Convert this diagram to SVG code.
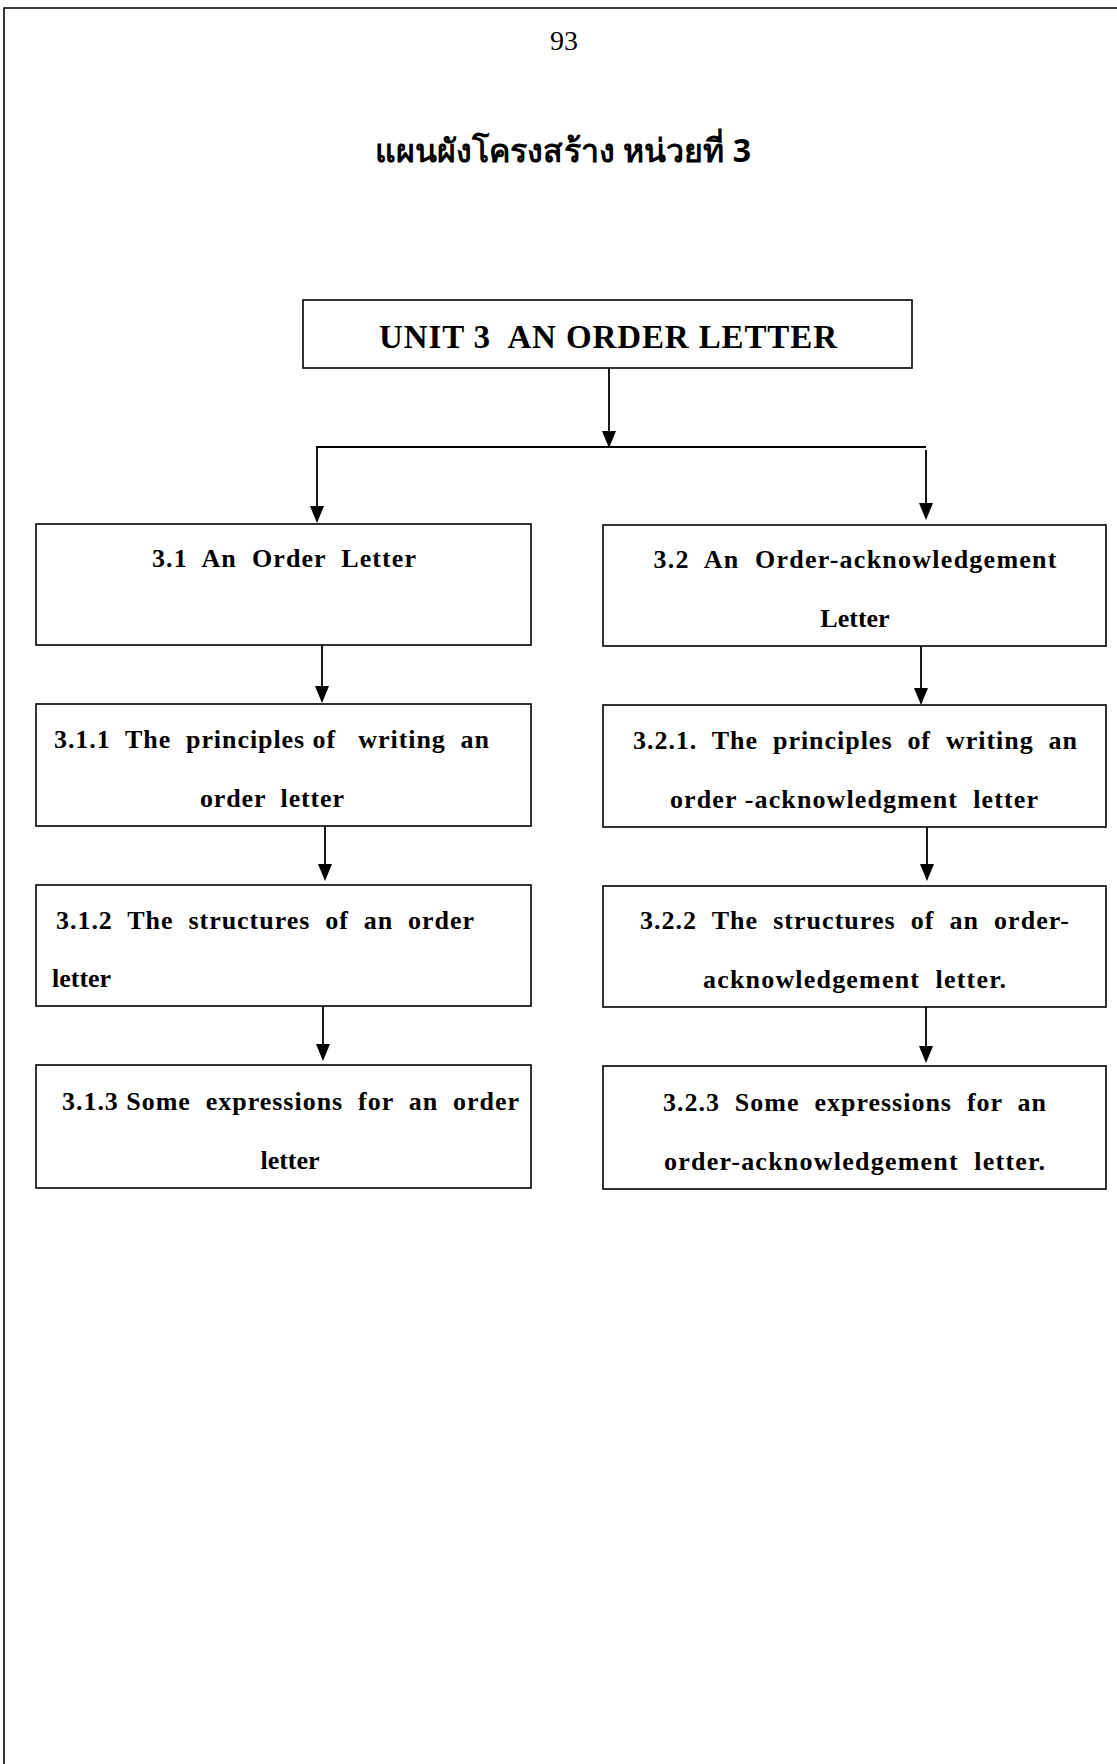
<svg xmlns="http://www.w3.org/2000/svg" width="1117" height="1764" viewBox="0 0 1117 1764">
<style>
.bx{fill:#fff;stroke:#000;stroke-width:1.6}
.t{font-family:"Liberation Serif","Times New Roman",serif;font-weight:bold;font-size:26px;fill:#000}
.ln{stroke:#000;stroke-width:1.8;fill:none}
.ah{fill:#000}
.pg{stroke:#000;stroke-width:1.6;fill:none}
</style>
<rect width="1117" height="1764" fill="#fff"/>
<g id="page">
<path class="pg" d="M4,1764 V8 H1117"/>
<text x="564" y="50" text-anchor="middle" style="font-family:'Liberation Serif',serif;font-size:28px">93</text>
<text x="563" y="162" text-anchor="middle" textLength="376" lengthAdjust="spacingAndGlyphs" style="font-family:'Noto Sans','DejaVu Sans',sans-serif;font-weight:bold;font-size:32px">แผนผังโครงสร้าง หน่วยที่ 3</text>
</g>
<g id="connectors">
<line class="ln" x1="609" y1="368" x2="609" y2="447"/>
<path class="ah" d="M602,431 L616,431 L609,448 Z"/>
<polyline class="ln" points="317,507 317,447 926,447"/>
<path class="ah" d="M310,506 L324,506 L317,523 Z"/>
<line class="ln" x1="926" y1="450" x2="926" y2="505"/>
<path class="ah" d="M919,503 L933,503 L926,520 Z"/>
<line class="ln" x1="322" y1="645" x2="322" y2="688"/>
<path class="ah" d="M315,686 L329,686 L322,703 Z"/>
<line class="ln" x1="921" y1="646" x2="921" y2="690"/>
<path class="ah" d="M914,688 L928,688 L921,705 Z"/>
<line class="ln" x1="325" y1="826" x2="325" y2="866"/>
<path class="ah" d="M318,864 L332,864 L325,881 Z"/>
<line class="ln" x1="927" y1="823" x2="927" y2="866"/>
<path class="ah" d="M920,864 L934,864 L927,881 Z"/>
<line class="ln" x1="323" y1="1006" x2="323" y2="1046"/>
<path class="ah" d="M316,1044 L330,1044 L323,1061 Z"/>
<line class="ln" x1="926" y1="1007" x2="926" y2="1048"/>
<path class="ah" d="M919,1046 L933,1046 L926,1063 Z"/>
</g>
<g id="unit3">
<rect class="bx" x="303" y="300" width="609" height="68"/>
<text class="t" x="608" y="348" text-anchor="middle" textLength="458" lengthAdjust="spacing" xml:space="preserve" style="font-size:33px">UNIT 3  AN ORDER LETTER</text>
</g>
<g id="n31">
<rect class="bx" x="36" y="524" width="495" height="121"/>
<text class="t" x="284" y="567" text-anchor="middle" textLength="264" lengthAdjust="spacing" xml:space="preserve">3.1  An  Order  Letter</text>
</g>
<g id="n32">
<rect class="bx" x="603" y="525" width="503" height="121"/>
<text class="t" x="855" y="568" text-anchor="middle" textLength="403" lengthAdjust="spacing" xml:space="preserve">3.2  An  Order-acknowledgement</text>
<text class="t" x="855" y="627" text-anchor="middle">Letter</text>
</g>
<g id="n311">
<rect class="bx" x="36" y="704" width="495" height="122"/>
<text class="t" x="54" y="748" textLength="435" lengthAdjust="spacing" xml:space="preserve">3.1.1  The  principles of   writing  an</text>
<text class="t" x="272" y="807" text-anchor="middle" textLength="144" lengthAdjust="spacing" xml:space="preserve">order  letter</text>
</g>
<g id="n321">
<rect class="bx" x="603" y="705" width="503" height="122"/>
<text class="t" x="633" y="749" textLength="444" lengthAdjust="spacing" xml:space="preserve">3.2.1.  The  principles  of  writing  an</text>
<text class="t" x="670" y="808" textLength="368" lengthAdjust="spacing" xml:space="preserve">order -acknowledgment  letter</text>
</g>
<g id="n312">
<rect class="bx" x="36" y="885" width="495" height="121"/>
<text class="t" x="56" y="929" textLength="418" lengthAdjust="spacing" xml:space="preserve">3.1.2  The  structures  of  an  order</text>
<text class="t" x="52" y="987">letter</text>
</g>
<g id="n322">
<rect class="bx" x="603" y="886" width="503" height="121"/>
<text class="t" x="640" y="929" textLength="429" lengthAdjust="spacing" xml:space="preserve">3.2.2  The  structures  of  an  order-</text>
<text class="t" x="703" y="988" textLength="303" lengthAdjust="spacing" xml:space="preserve">acknowledgement  letter.</text>
</g>
<g id="n313">
<rect class="bx" x="36" y="1065" width="495" height="123"/>
<text class="t" x="62" y="1110" textLength="457" lengthAdjust="spacing" xml:space="preserve">3.1.3 Some  expressions  for  an  order</text>
<text class="t" x="290" y="1169" text-anchor="middle">letter</text>
</g>
<g id="n323">
<rect class="bx" x="603" y="1066" width="503" height="123"/>
<text class="t" x="663" y="1111" textLength="383" lengthAdjust="spacing" xml:space="preserve">3.2.3  Some  expressions  for  an</text>
<text class="t" x="664" y="1170" textLength="381" lengthAdjust="spacing" xml:space="preserve">order-acknowledgement  letter.</text>
</g>
</svg>
